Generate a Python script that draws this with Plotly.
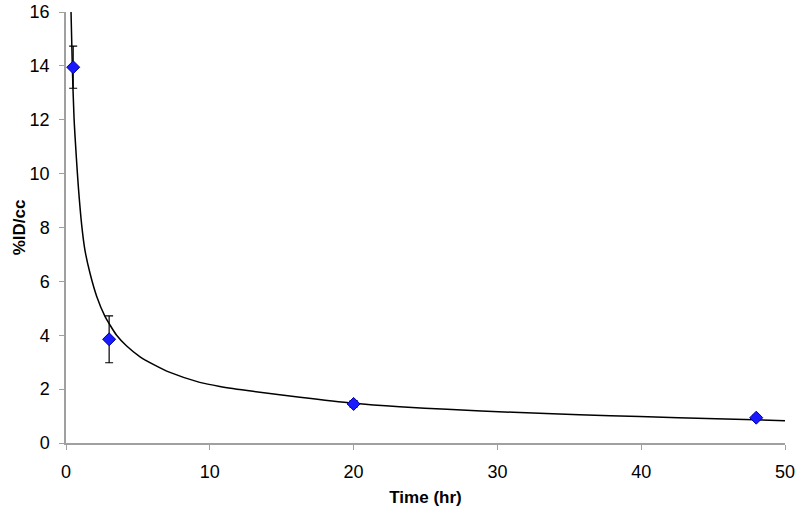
import plotly.graph_objects as go

# measured data points
time_hr = [0.5, 3, 20, 48]
id_cc = [13.95, 3.85, 1.45, 0.94]
id_cc_err = [0.78, 0.87, 0.12, 0.09]

# fitted curve
curve_t = [0.35, 0.44, 0.56, 0.72, 0.86, 1.09, 1.32, 1.67, 2.13, 2.71, 3.06, 3.52,
           4.22, 5.15, 6.07, 7.23, 9.3, 10.7, 13.0, 16.27, 20, 23.2, 26.5, 31.1,
           35.7, 39.9, 45.2, 50]
curve_y = [16, 13.96, 12.06, 10.6, 9.5, 8.1, 7.15, 6.3, 5.45, 4.7, 4.38, 4.0,
           3.6, 3.2, 2.92, 2.62, 2.25, 2.1, 1.92, 1.7, 1.48, 1.35, 1.25, 1.14,
           1.05, 0.98, 0.9, 0.83]

x_ticks = [0, 10, 20, 30, 40, 50]
y_ticks = [0, 2, 4, 6, 8, 10, 12, 14, 16]

fig = go.Figure()

fig.add_trace(
    go.Scatter(
        x=curve_t,
        y=curve_y,
        mode="lines",
        line=dict(color="black", width=1.5, shape="spline", smoothing=0.8),
        hoverinfo="skip",
    )
)

fig.add_trace(
    go.Scatter(
        x=time_hr,
        y=id_cc,
        mode="markers",
        marker=dict(symbol="diamond", size=10, color="#1a1aff",
                    line=dict(color="#0000a0", width=1)),
        error_y=dict(type="data", array=id_cc_err, color="black", thickness=1.2, width=4),
    )
)

axis_font = dict(family="Liberation Sans, Arial, sans-serif", size=18, color="black")
title_font = dict(family="Liberation Sans, Arial, sans-serif", size=17, color="black")

fig.update_layout(
    width=800,
    height=517,
    margin=dict(l=66, r=15, t=12, b=74),
    paper_bgcolor="white",
    plot_bgcolor="white",
    showlegend=False,
    xaxis=dict(
        range=[0, 50],
        tickvals=x_ticks,
        showgrid=False,
        zeroline=False,
        showline=True,
        linecolor="#a0a0a0",
        linewidth=1.5,
        ticks="outside",
        ticklen=5,
        tickcolor="#a0a0a0",
        tickfont=axis_font,
        ticklabelstandoff=7,
        automargin=False,
        title=dict(text="<b>Time (hr)</b>", font=title_font, standoff=10),
    ),
    yaxis=dict(
        range=[0, 16],
        tickvals=y_ticks,
        showgrid=False,
        zeroline=False,
        showline=True,
        linecolor="#a0a0a0",
        linewidth=1.5,
        ticks="outside",
        ticklen=5,
        tickcolor="#a0a0a0",
        tickfont=axis_font,
        ticklabelstandoff=6,
        automargin=False,
        title=dict(text="<b>%ID/cc</b>", font=title_font, standoff=0),
    ),
)

# drop the browser's default 8px body margin so the figure sits at the corner
fig.write_html(
    "out.html",
    config={"displayModeBar": False},
    post_script="document.body.style.margin = '0px';",
)
